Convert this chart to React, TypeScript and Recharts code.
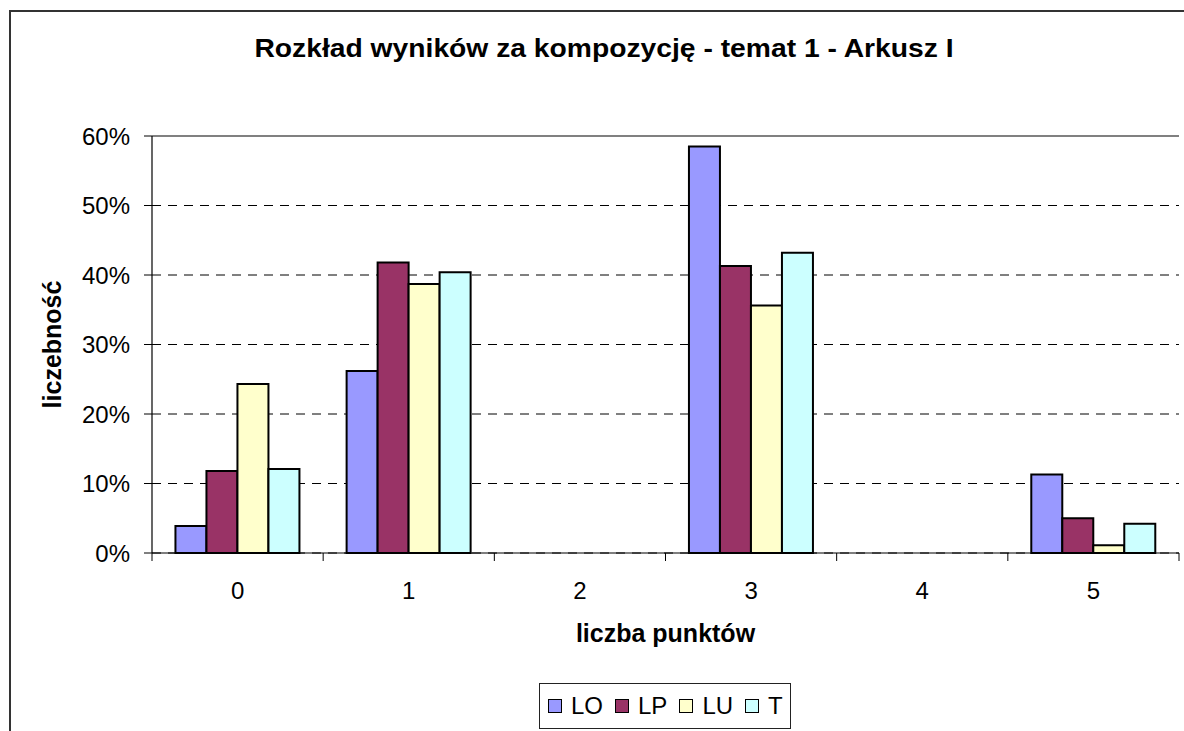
import React from "react";
import {
  BarChart,
  Bar,
  XAxis,
  YAxis,
  CartesianGrid,
  ReferenceLine,
  Label,
} from "recharts";

const categories = ["0", "1", "2", "3", "4", "5"];
const valuesLO = [3.9, 26.2, 0, 58.5, 0, 11.3];
const valuesLP = [11.8, 41.8, 0, 41.3, 0, 5.0];
const valuesLU = [24.3, 38.7, 0, 35.6, 0, 1.1];
const valuesT = [12.1, 40.4, 0, 43.2, 0, 4.2];
const yTicks = [0, 10, 20, 30, 40, 50, 60];

const series = [
  { key: "LO", color: "#9999FF" },
  { key: "LP", color: "#993366" },
  { key: "LU", color: "#FFFFCC" },
  { key: "T", color: "#CCFFFF" },
];

const data = categories.map((cat, i) => ({
  cat,
  LO: valuesLO[i],
  LP: valuesLP[i],
  LU: valuesLU[i],
  T: valuesT[i],
}));

const FONT = '"Liberation Sans", Arial, sans-serif';
const X_TICK_MARGIN = 29;

type Box = { x: number; y: number; width: number; height: number };

function YTitle({ viewBox }: { viewBox?: Box }) {
  if (!viewBox) return null;
  const cx = 52;
  const cy = viewBox.y + viewBox.height / 2;
  return (
    <text
      x={cx}
      y={cy}
      transform={`rotate(-90 ${cx} ${cy})`}
      textAnchor="middle"
      dominantBaseline="central"
      fontFamily={FONT}
      fontSize={25}
      fontWeight="bold"
      fill="#000"
    >
      liczebność
    </text>
  );
}

function XTitle({ viewBox }: { viewBox?: Box }) {
  if (!viewBox) return null;
  return (
    <text
      x={viewBox.x + viewBox.width / 2}
      y={642}
      textAnchor="middle"
      fontFamily={FONT}
      fontSize={25}
      fontWeight="bold"
      fill="#000"
    >
      liczba punktów
    </text>
  );
}

// category label in the middle, tick marks on the category boundaries (Excel style)
function XTick(props: any) {
  const { x, y, payload, index, visibleTicksCount } = props;
  const half = payload?.offset ?? 1027 / 12;
  const axisY = y - X_TICK_MARGIN;
  const isLast = index === visibleTicksCount - 1;
  return (
    <g>
      <line x1={x - half} x2={x - half} y1={axisY} y2={axisY + 8} stroke="#000" />
      {isLast && (
        <line x1={x + half} x2={x + half} y1={axisY} y2={axisY + 8} stroke="#000" />
      )}
      <text
        x={x}
        y={y}
        dy="0.71em"
        textAnchor="middle"
        fontFamily={FONT}
        fontSize={24}
        fill="#000"
      >
        {payload.value}
      </text>
    </g>
  );
}

export default function App() {
  return (
    <div
      style={{
        position: "absolute",
        left: 0,
        top: 0,
        width: 1184,
        height: 731,
        overflow: "hidden",
        background: "#fff",
        fontFamily: FONT,
      }}
    >
      {/* outer frame, runs off the right and bottom edges */}
      <div
        style={{
          position: "absolute",
          left: 9,
          top: 10,
          width: 1300,
          height: 1000,
          border: "2px solid #333",
        }}
      />

      {/* Title */}
      <div
        style={{
          position: "absolute",
          left: 104,
          top: 36,
          width: 1000,
          textAlign: "center",
          fontSize: 25,
          lineHeight: "25px",
          fontWeight: "bold",
          whiteSpace: "nowrap",
          transform: "scaleX(1.13)",
          transformOrigin: "center",
        }}
      >
        Rozkład wyników za kompozycję - temat 1 - Arkusz I
      </div>

      <div style={{ position: "absolute", left: 0, top: 0 }}>
        <BarChart
          width={1184}
          height={731}
          data={data}
          margin={{ top: 136, right: 5, bottom: 118, left: 72 }}
          barCategoryGap="13.7%"
          barGap={0}
        >
          <CartesianGrid
            vertical={false}
            stroke="#000"
            strokeDasharray="9 7"
          />
          <XAxis
            dataKey="cat"
            height={60}
            axisLine={{ stroke: "#000", strokeWidth: 1.2 }}
            tickLine={false}
            tickSize={0}
            tickMargin={X_TICK_MARGIN}
            tick={<XTick />}
            interval={0}
          >
            <Label content={<XTitle />} />
          </XAxis>
          <YAxis
            domain={[0, 60]}
            ticks={yTicks}
            width={80}
            tickSize={8}
            tickMargin={14}
            tickFormatter={(v: number) => `${v}%`}
            tick={{ fontSize: 24, fill: "#000", fontFamily: FONT }}
            axisLine={{ stroke: "#000", strokeWidth: 1.2 }}
            tickLine={{ stroke: "#000" }}
          >
            <Label content={<YTitle />} />
          </YAxis>
          <YAxis
            yAxisId="r"
            orientation="right"
            domain={[0, 60]}
            width={0}
            tick={false}
            tickLine={false}
            axisLine={{ stroke: "#808080", strokeWidth: 2 }}
          />
          <ReferenceLine y={60} stroke="#808080" strokeWidth={2} />
          {series.map((s) => (
            <Bar
              key={s.key}
              dataKey={s.key}
              fill={s.color}
              stroke="#000"
              strokeWidth={2}
              isAnimationActive={false}
            />
          ))}
        </BarChart>
      </div>

      {/* Legend */}
      <div
        style={{
          position: "absolute",
          left: 539,
          top: 683,
          width: 252,
          height: 46,
          boxSizing: "border-box",
          border: "1px solid #222",
          display: "flex",
          alignItems: "center",
          paddingLeft: 8,
          fontSize: 24,
          lineHeight: "24px",
        }}
      >
        {series.map((s) => (
          <div
            key={s.key}
            style={{ display: "flex", alignItems: "center", marginRight: 12 }}
          >
            <span
              style={{
                display: "inline-block",
                width: 14,
                height: 14,
                boxSizing: "border-box",
                border: "1.5px solid #000",
                background: s.color,
                marginRight: 9,
              }}
            />
            <span>{s.key}</span>
          </div>
        ))}
      </div>
    </div>
  );
}
